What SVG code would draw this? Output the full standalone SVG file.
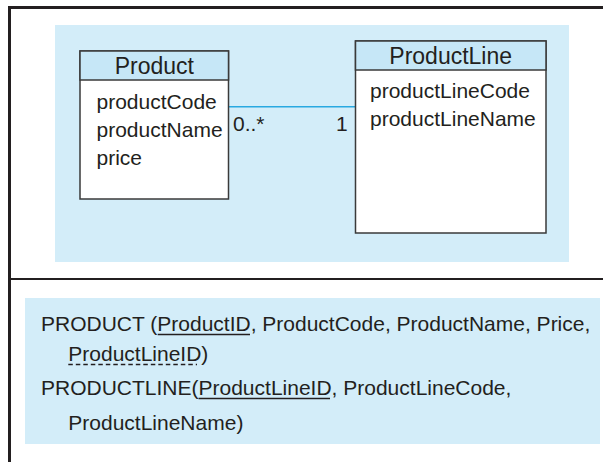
<svg xmlns="http://www.w3.org/2000/svg" width="603" height="462" viewBox="0 0 603 462">
<style>
text{font-family:"Liberation Sans",Arial,Helvetica,sans-serif;fill:#231f20}
.hdr{font-size:23px;text-anchor:middle}
.att{font-size:21px}
.rel{font-size:21px}
.box{fill:#ffffff;stroke:#3a3a3a;stroke-width:1.5}
.head{fill:#c6e7f7;stroke:#3a3a3a;stroke-width:1.5}
.panel{fill:#d3edf9}
.frame{stroke:#231f20;stroke-width:3;fill:none}
.ul{stroke:#231f20;stroke-width:1.3}
</style>
<rect width="603" height="462" fill="#ffffff"/>
<g id="frame">
<path class="frame" d="M9.5,462 V7.5 H603"/>
<line x1="9" y1="279" x2="603" y2="279" stroke="#231f20" stroke-width="2"/>
</g>
<rect id="uml-panel" class="panel" x="55" y="25" width="514" height="237"/>
<rect id="rel-panel" class="panel" x="25" y="298" width="575" height="146"/>
<g id="connectors">
<line x1="229" y1="106.7" x2="355" y2="106.7" stroke="#29a9e1" stroke-width="1.5"/>
<text class="att" x="233" y="131">0..*</text>
<text class="att" x="336" y="131">1</text>
</g>
<g id="product">
<rect class="box" x="80" y="51" width="148.5" height="148"/>
<rect class="head" x="80" y="51" width="148.5" height="29"/>
<text class="hdr" x="154.3" y="74">Product</text>
<text class="att" x="96.5" y="108.5">productCode</text>
<text class="att" x="96.5" y="136.5">productName</text>
<text class="att" x="96.5" y="164.5">price</text>
</g>
<g id="productline">
<rect class="box" x="355.5" y="41" width="190.5" height="192"/>
<rect class="head" x="355.5" y="41" width="190.5" height="29"/>
<text class="hdr" x="450.7" y="63.5">ProductLine</text>
<text class="att" x="370" y="98">productLineCode</text>
<text class="att" x="370" y="126">productLineName</text>
</g>
<g id="relations">
<text class="rel" x="41" y="331">PRODUCT (ProductID, ProductCode, ProductName, Price,</text>
<line class="ul" x1="157.7" y1="334.5" x2="250" y2="334.5"/>
<text class="rel" x="68.3" y="360.5">ProductLineID)</text>
<line class="ul" x1="68.3" y1="364.5" x2="197" y2="364.5" stroke-dasharray="4.5,3"/>
<text class="rel" x="41" y="395">PRODUCTLINE(ProductLineID, ProductLineCode,</text>
<line class="ul" x1="198.5" y1="398.5" x2="330" y2="398.5"/>
<text class="rel" x="68.3" y="430">ProductLineName)</text>
</g>
</svg>
